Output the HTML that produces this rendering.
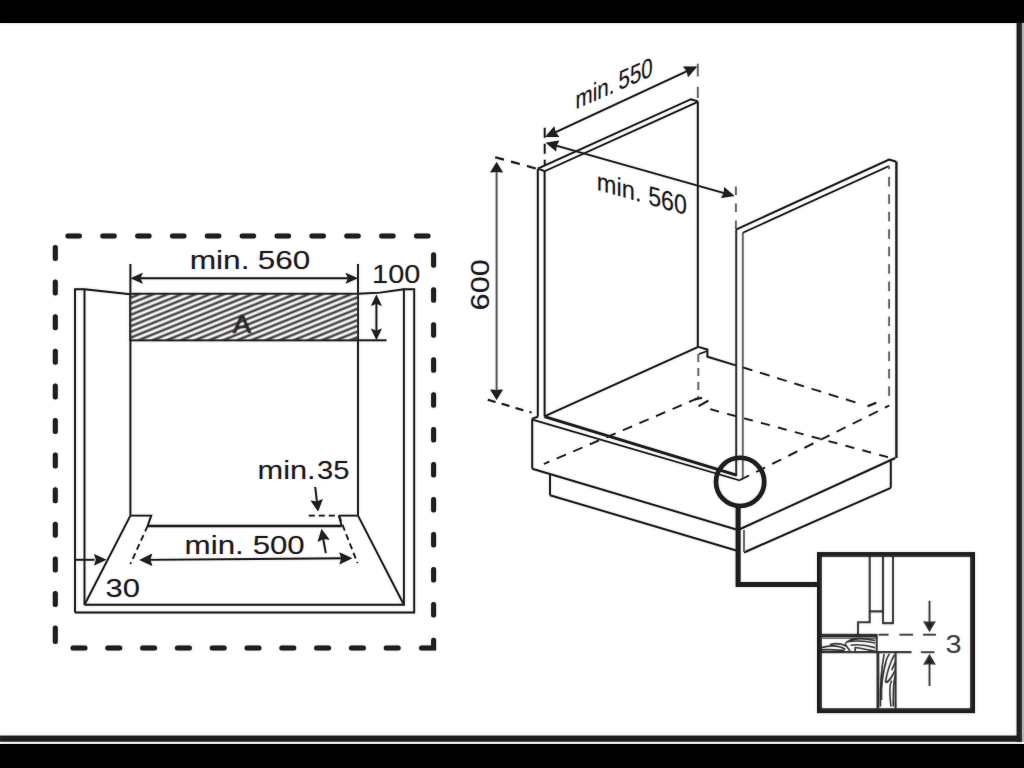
<!DOCTYPE html>
<html><head><meta charset="utf-8"><style>
html,body{margin:0;padding:0;background:#fff;width:1024px;height:768px;overflow:hidden}
svg{display:block}
text{font-family:"Liberation Sans",sans-serif}
</style></head><body>
<svg width="1024" height="768" viewBox="0 0 1024 768">
<defs><filter id="halo" x="0" y="0" width="1024" height="768" filterUnits="userSpaceOnUse"><feGaussianBlur stdDeviation="1"/></filter></defs>
<rect width="1024" height="768" fill="#fff"/>
<g id="art">
<rect x="0" y="0" width="1024" height="23" fill="#000"/>
<rect x="0" y="744" width="1024" height="24" fill="#000"/>
<rect x="0" y="735.6" width="1022.1" height="6.1" fill="#231f20"/>
<rect x="1016.6" y="23" width="5.5" height="718.7" fill="#231f20"/>
<rect x="1022.1" y="23" width="1.9" height="719" fill="#b8b8b8"/>
<line x1="67.90" y1="236" x2="79.40" y2="236" stroke="#231f20" stroke-width="5" stroke-linecap="round"/>
<line x1="102.76" y1="236" x2="114.26" y2="236" stroke="#231f20" stroke-width="5" stroke-linecap="round"/>
<line x1="137.62" y1="236" x2="149.12" y2="236" stroke="#231f20" stroke-width="5" stroke-linecap="round"/>
<line x1="172.48" y1="236" x2="183.98" y2="236" stroke="#231f20" stroke-width="5" stroke-linecap="round"/>
<line x1="207.34" y1="236" x2="218.84" y2="236" stroke="#231f20" stroke-width="5" stroke-linecap="round"/>
<line x1="242.20" y1="236" x2="253.70" y2="236" stroke="#231f20" stroke-width="5" stroke-linecap="round"/>
<line x1="277.06" y1="236" x2="288.56" y2="236" stroke="#231f20" stroke-width="5" stroke-linecap="round"/>
<line x1="311.92" y1="236" x2="323.42" y2="236" stroke="#231f20" stroke-width="5" stroke-linecap="round"/>
<line x1="346.78" y1="236" x2="358.28" y2="236" stroke="#231f20" stroke-width="5" stroke-linecap="round"/>
<line x1="381.64" y1="236" x2="393.14" y2="236" stroke="#231f20" stroke-width="5" stroke-linecap="round"/>
<line x1="416.50" y1="236" x2="428.00" y2="236" stroke="#231f20" stroke-width="5" stroke-linecap="round"/>
<line x1="55.3" y1="247.50" x2="55.3" y2="258.50" stroke="#231f20" stroke-width="5" stroke-linecap="round"/>
<line x1="55.3" y1="282.10" x2="55.3" y2="293.10" stroke="#231f20" stroke-width="5" stroke-linecap="round"/>
<line x1="55.3" y1="316.70" x2="55.3" y2="327.70" stroke="#231f20" stroke-width="5" stroke-linecap="round"/>
<line x1="55.3" y1="351.30" x2="55.3" y2="362.30" stroke="#231f20" stroke-width="5" stroke-linecap="round"/>
<line x1="55.3" y1="385.90" x2="55.3" y2="396.90" stroke="#231f20" stroke-width="5" stroke-linecap="round"/>
<line x1="55.3" y1="420.50" x2="55.3" y2="431.50" stroke="#231f20" stroke-width="5" stroke-linecap="round"/>
<line x1="55.3" y1="455.10" x2="55.3" y2="466.10" stroke="#231f20" stroke-width="5" stroke-linecap="round"/>
<line x1="55.3" y1="489.70" x2="55.3" y2="500.70" stroke="#231f20" stroke-width="5" stroke-linecap="round"/>
<line x1="55.3" y1="524.30" x2="55.3" y2="535.30" stroke="#231f20" stroke-width="5" stroke-linecap="round"/>
<line x1="55.3" y1="558.90" x2="55.3" y2="569.90" stroke="#231f20" stroke-width="5" stroke-linecap="round"/>
<line x1="55.3" y1="593.50" x2="55.3" y2="604.50" stroke="#231f20" stroke-width="5" stroke-linecap="round"/>
<line x1="55.3" y1="628.10" x2="55.3" y2="641.60" stroke="#231f20" stroke-width="5" stroke-linecap="round"/>
<line x1="73.00" y1="648" x2="85.00" y2="648" stroke="#231f20" stroke-width="5" stroke-linecap="round"/>
<line x1="107.80" y1="648" x2="119.80" y2="648" stroke="#231f20" stroke-width="5" stroke-linecap="round"/>
<line x1="142.60" y1="648" x2="154.60" y2="648" stroke="#231f20" stroke-width="5" stroke-linecap="round"/>
<line x1="177.40" y1="648" x2="189.40" y2="648" stroke="#231f20" stroke-width="5" stroke-linecap="round"/>
<line x1="212.20" y1="648" x2="224.20" y2="648" stroke="#231f20" stroke-width="5" stroke-linecap="round"/>
<line x1="247.00" y1="648" x2="259.00" y2="648" stroke="#231f20" stroke-width="5" stroke-linecap="round"/>
<line x1="281.80" y1="648" x2="293.80" y2="648" stroke="#231f20" stroke-width="5" stroke-linecap="round"/>
<line x1="316.60" y1="648" x2="328.60" y2="648" stroke="#231f20" stroke-width="5" stroke-linecap="round"/>
<line x1="351.40" y1="648" x2="363.40" y2="648" stroke="#231f20" stroke-width="5" stroke-linecap="round"/>
<line x1="386.20" y1="648" x2="398.20" y2="648" stroke="#231f20" stroke-width="5" stroke-linecap="round"/>
<line x1="433.6" y1="254.80" x2="433.6" y2="265.30" stroke="#231f20" stroke-width="5" stroke-linecap="round"/>
<line x1="433.6" y1="289.76" x2="433.6" y2="300.26" stroke="#231f20" stroke-width="5" stroke-linecap="round"/>
<line x1="433.6" y1="324.72" x2="433.6" y2="335.22" stroke="#231f20" stroke-width="5" stroke-linecap="round"/>
<line x1="433.6" y1="359.68" x2="433.6" y2="370.18" stroke="#231f20" stroke-width="5" stroke-linecap="round"/>
<line x1="433.6" y1="394.64" x2="433.6" y2="405.14" stroke="#231f20" stroke-width="5" stroke-linecap="round"/>
<line x1="433.6" y1="429.60" x2="433.6" y2="440.10" stroke="#231f20" stroke-width="5" stroke-linecap="round"/>
<line x1="433.6" y1="464.56" x2="433.6" y2="475.06" stroke="#231f20" stroke-width="5" stroke-linecap="round"/>
<line x1="433.6" y1="499.52" x2="433.6" y2="510.02" stroke="#231f20" stroke-width="5" stroke-linecap="round"/>
<line x1="433.6" y1="534.48" x2="433.6" y2="544.98" stroke="#231f20" stroke-width="5" stroke-linecap="round"/>
<line x1="433.6" y1="569.44" x2="433.6" y2="579.94" stroke="#231f20" stroke-width="5" stroke-linecap="round"/>
<line x1="433.6" y1="604.40" x2="433.6" y2="614.90" stroke="#231f20" stroke-width="5" stroke-linecap="round"/>
<path d="M421.5,648 H433.6 V640.2" stroke="#231f20" stroke-width="5" fill="none" stroke-linejoin="miter" stroke-linecap="round"/>
<path d="M75,612.5 V289.2 H84.5 L130.4,294.2" stroke="#231f20" stroke-width="1.9" fill="none" />
<line x1="84.5" y1="289.2" x2="84.5" y2="604.8" stroke="#231f20" stroke-width="1.9" />
<path d="M84.5,604.8 H403.9 V289.2 H414.2 V612.5 H75" stroke="#231f20" stroke-width="1.9" fill="none" />
<path d="M358,293.8 L380,292.6 L403.9,289.2" stroke="#231f20" stroke-width="1.9" fill="none" />
<line x1="130.4" y1="264" x2="130.4" y2="515.6" stroke="#231f20" stroke-width="1.9" />
<line x1="358" y1="264" x2="358" y2="515.6" stroke="#231f20" stroke-width="1.9" />
<defs><pattern id="hatch" patternUnits="userSpaceOnUse" width="12" height="5.7" patternTransform="skewY(-22)"><rect width="12" height="5.7" fill="#fff"/><line x1="-1" y1="2.85" x2="13" y2="2.85" stroke="#353132" stroke-width="2.7"/></pattern></defs>
<rect x="130.4" y="293.8" width="227.6" height="46.5" fill="url(#hatch)" stroke="#231f20" stroke-width="2"/>
<text x="232.67" y="333.30" font-size="25" fill="#231f20" textLength="18.43" lengthAdjust="spacingAndGlyphs" stroke="#231f20" stroke-width="0.7">A</text>
<line x1="136.65" y1="278.30" x2="351.75" y2="278.30" stroke="#231f20" stroke-width="1.9" />
<polygon points="130.40,278.30 142.90,272.79 140.40,278.30 142.90,283.81" fill="#231f20"/>
<polygon points="358.00,278.30 345.50,283.81 348.00,278.30 345.50,272.79" fill="#231f20"/>
<text x="189.68" y="268.70" font-size="26.5" fill="#231f20" textLength="59.89" lengthAdjust="spacingAndGlyphs" >min.</text>
<text x="257.74" y="268.70" font-size="25" fill="#231f20" textLength="52.38" lengthAdjust="spacingAndGlyphs" >560</text>
<text x="372.08" y="283.40" font-size="25" fill="#231f20" textLength="48.15" lengthAdjust="spacingAndGlyphs" >100</text>
<line x1="358" y1="340.3" x2="386.5" y2="340.3" stroke="#231f20" stroke-width="1.9" />
<line x1="376.40" y1="300.25" x2="376.40" y2="334.25" stroke="#231f20" stroke-width="1.9" />
<polygon points="376.40,294.50 381.91,306.00 376.40,303.70 370.89,306.00" fill="#231f20"/>
<polygon points="376.40,340.00 370.89,328.50 376.40,330.80 381.91,328.50" fill="#231f20"/>
<path d="M130.4,515.6 H151.25 L147.6,526 M338.9,515.6 H358" stroke="#231f20" stroke-width="1.9" fill="none" />
<line x1="147.6" y1="526" x2="341.7" y2="526" stroke="#231f20" stroke-width="2.6" />
<line x1="341.7" y1="526" x2="338.9" y2="515.6" stroke="#231f20" stroke-width="1.9" />
<line x1="130.4" y1="515.6" x2="84.5" y2="604.8" stroke="#231f20" stroke-width="1.9" />
<line x1="358" y1="515.6" x2="403.9" y2="604.8" stroke="#231f20" stroke-width="1.9" />
<line x1="147.6" y1="526" x2="130.4" y2="564" stroke="#231f20" stroke-width="1.8" stroke-dasharray="6 4" stroke-dashoffset="0"/>
<line x1="338.9" y1="515.6" x2="357.5" y2="563.2" stroke="#231f20" stroke-width="1.8" stroke-dasharray="6 4" stroke-dashoffset="0"/>
<line x1="308.8" y1="515.6" x2="338.9" y2="515.6" stroke="#231f20" stroke-width="1.8" stroke-dasharray="6 4" stroke-dashoffset="0"/>
<line x1="145.80" y1="559.85" x2="345.80" y2="558.25" stroke="#231f20" stroke-width="1.9" />
<polygon points="139.30,559.90 152.25,553.62 150.35,559.81 152.35,565.97" fill="#231f20"/>
<polygon points="352.30,558.20 339.35,564.48 341.25,558.29 339.25,552.13" fill="#231f20"/>
<text x="184.60" y="553.60" font-size="26.5" fill="#231f20" textLength="59.23" lengthAdjust="spacingAndGlyphs" >min.</text>
<text x="252.65" y="553.60" font-size="25" fill="#231f20" textLength="52.07" lengthAdjust="spacingAndGlyphs" >500</text>
<line x1="75.8" y1="559.8" x2="94.5" y2="559.8" stroke="#231f20" stroke-width="1.9" />
<polygon points="106.50,559.80 94.00,565.50 95.88,559.80 94.00,554.10" fill="#231f20"/>
<text x="105.61" y="596.50" font-size="25" fill="#231f20" textLength="34.44" lengthAdjust="spacingAndGlyphs" >30</text>
<text x="257.54" y="478.80" font-size="26.5" fill="#231f20" textLength="58.14" lengthAdjust="spacingAndGlyphs" >min.</text>
<text x="317.08" y="478.80" font-size="25" fill="#231f20" textLength="32.39" lengthAdjust="spacingAndGlyphs" >35</text>
<line x1="315.2" y1="487" x2="317" y2="502" stroke="#231f20" stroke-width="1.9" />
<polygon points="318.10,511.60 310.56,500.41 316.91,501.47 322.83,498.96" fill="#231f20"/>
<line x1="325.8" y1="553" x2="323" y2="538" stroke="#231f20" stroke-width="1.9" />
<polygon points="321.50,529.00 329.69,539.72 323.30,539.04 317.54,541.90" fill="#231f20"/>
<line x1="537.8" y1="169" x2="537.8" y2="416.5" stroke="#231f20" stroke-width="1.95" />
<line x1="544.6" y1="171" x2="544.6" y2="416.5" stroke="#231f20" stroke-width="1.95" />
<path d="M537.8,168.6 L691,99.2 L697.8,101.4" stroke="#231f20" stroke-width="1.95" fill="none" />
<line x1="544.6" y1="171.2" x2="697.8" y2="101.9" stroke="#231f20" stroke-width="1.8" />
<line x1="537.8" y1="168.6" x2="544.6" y2="171.2" stroke="#231f20" stroke-width="1.8" />
<line x1="697.8" y1="101.4" x2="697.8" y2="347" stroke="#231f20" stroke-width="1.95" />
<line x1="697.8" y1="63.7" x2="697.8" y2="76.4" stroke="#6f6b6c" stroke-width="1.9" stroke-dasharray="13 100" stroke-dashoffset="0"/>
<line x1="697.8" y1="86.9" x2="697.8" y2="98" stroke="#6f6b6c" stroke-width="1.9" stroke-dasharray="12 100" stroke-dashoffset="0"/>
<line x1="544.7" y1="127.8" x2="544.7" y2="166" stroke="#231f20" stroke-width="1.9" stroke-dasharray="10 6" stroke-dashoffset="0"/>
<line x1="550.90" y1="134.27" x2="691.40" y2="69.13" stroke="#231f20" stroke-width="1.9" />
<polygon points="545.00,137.00 554.32,126.19 555.61,132.08 559.27,136.88" fill="#231f20"/>
<polygon points="697.30,66.40 687.98,77.21 686.69,71.32 683.03,66.52" fill="#231f20"/>
<line x1="551.72" y1="144.40" x2="728.58" y2="194.30" stroke="#231f20" stroke-width="1.9" />
<polygon points="545.70,142.70 559.28,140.61 556.53,145.76 556.18,151.58" fill="#231f20"/>
<polygon points="734.60,196.00 721.02,198.09 723.77,192.94 724.12,187.12" fill="#231f20"/>
<line x1="735.9" y1="186.4" x2="735.9" y2="229.6" stroke="#6f6b6c" stroke-width="1.9" stroke-dasharray="8.5 8.5" stroke-dashoffset="0"/>
<line x1="496.6" y1="172" x2="496.6" y2="390" stroke="#5f5b5c" stroke-width="1.9" />
<polygon points="496.60,161.90 503.06,172.40 496.60,171.88 490.14,172.40" fill="#231f20"/>
<polygon points="496.60,400.00 490.14,389.50 496.60,390.02 503.06,389.50" fill="#231f20"/>
<line x1="495.2" y1="157.2" x2="538.6" y2="169.3" stroke="#231f20" stroke-width="2.1" stroke-dasharray="9 7.5" stroke-dashoffset="0"/>
<line x1="487.8" y1="399.7" x2="531.6" y2="412.6" stroke="#231f20" stroke-width="2.1" stroke-dasharray="8 6.5" stroke-dashoffset="0"/>
<line x1="736.2" y1="229.6" x2="736.2" y2="476" stroke="#3a3637" stroke-width="1.95" />
<line x1="742.8" y1="232.8" x2="742.8" y2="479" stroke="#6f6b6c" stroke-width="1.9" />
<path d="M735.9,229.6 L889.1,159.6 L896.4,161.8" stroke="#231f20" stroke-width="1.95" fill="none" />
<line x1="742.8" y1="232.8" x2="889.1" y2="166" stroke="#231f20" stroke-width="1.8" />
<line x1="896.4" y1="161.8" x2="896.4" y2="458.1" stroke="#231f20" stroke-width="2.3" />
<line x1="889.1" y1="166" x2="889.1" y2="169" stroke="#6f6b6c" stroke-width="1.9" />
<line x1="889.1" y1="176.90" x2="889.1" y2="186.40" stroke="#6f6b6c" stroke-width="1.9" />
<line x1="889.1" y1="194.36" x2="889.1" y2="203.86" stroke="#6f6b6c" stroke-width="1.9" />
<line x1="889.1" y1="211.82" x2="889.1" y2="221.32" stroke="#6f6b6c" stroke-width="1.9" />
<line x1="889.1" y1="229.28" x2="889.1" y2="238.78" stroke="#6f6b6c" stroke-width="1.9" />
<line x1="889.1" y1="246.74" x2="889.1" y2="256.24" stroke="#6f6b6c" stroke-width="1.9" />
<line x1="889.1" y1="264.20" x2="889.1" y2="273.70" stroke="#6f6b6c" stroke-width="1.9" />
<line x1="889.1" y1="281.66" x2="889.1" y2="291.16" stroke="#6f6b6c" stroke-width="1.9" />
<line x1="889.1" y1="299.12" x2="889.1" y2="308.62" stroke="#6f6b6c" stroke-width="1.9" />
<line x1="889.1" y1="316.58" x2="889.1" y2="326.08" stroke="#6f6b6c" stroke-width="1.9" />
<line x1="889.1" y1="334.04" x2="889.1" y2="343.54" stroke="#6f6b6c" stroke-width="1.9" />
<line x1="889.1" y1="351.50" x2="889.1" y2="361.00" stroke="#6f6b6c" stroke-width="1.9" />
<line x1="889.1" y1="368.96" x2="889.1" y2="378.46" stroke="#6f6b6c" stroke-width="1.9" />
<line x1="889.1" y1="386.42" x2="889.1" y2="395.92" stroke="#6f6b6c" stroke-width="1.9" />
<line x1="544.9" y1="416.1" x2="698.3" y2="346.9" stroke="#231f20" stroke-width="1.95" />
<path d="M698.3,346.9 L707.4,349.5 V356.7 L735.9,365.4" stroke="#231f20" stroke-width="1.95" fill="none" />
<line x1="699" y1="354" x2="707.4" y2="351" stroke="#231f20" stroke-width="1.5" />
<line x1="698.3" y1="354" x2="698.3" y2="397.7" stroke="#6f6b6c" stroke-width="1.9" stroke-dasharray="8 6" stroke-dashoffset="0"/>
<line x1="698.3" y1="398" x2="543.9" y2="464" stroke="#231f20" stroke-width="1.8" stroke-dasharray="10 8" stroke-dashoffset="0"/>
<line x1="710.3" y1="409.2" x2="893" y2="458.5" stroke="#231f20" stroke-width="1.8" stroke-dasharray="9 8.5" stroke-dashoffset="0"/>
<line x1="698.6" y1="406.1" x2="708.4" y2="400.6" stroke="#231f20" stroke-width="2.1" />
<line x1="694.5" y1="399.5" x2="702" y2="397.8" stroke="#231f20" stroke-width="2.1" />
<line x1="742.8" y1="367.3" x2="862" y2="404.5" stroke="#231f20" stroke-width="1.8" stroke-dasharray="10 8" stroke-dashoffset="0"/>
<line x1="867.6" y1="406.3" x2="876.2" y2="402.8" stroke="#231f20" stroke-width="2.1" />
<line x1="740" y1="480" x2="889.3" y2="405.5" stroke="#231f20" stroke-width="1.8" stroke-dasharray="10 8" stroke-dashoffset="0"/>
<line x1="544.5" y1="416.6" x2="736.5" y2="475.2" stroke="#231f20" stroke-width="2.9" />
<line x1="532.4" y1="419.6" x2="740" y2="480.5" stroke="#231f20" stroke-width="1.7" />
<line x1="532.2" y1="418.6" x2="532.2" y2="468.7" stroke="#231f20" stroke-width="1.95" />
<line x1="532.2" y1="418.6" x2="538" y2="416.8" stroke="#231f20" stroke-width="1.95" />
<line x1="532.2" y1="468.7" x2="738" y2="530" stroke="#231f20" stroke-width="1.95" />
<line x1="550" y1="474.4" x2="550" y2="495.2" stroke="#231f20" stroke-width="1.95" />
<line x1="550" y1="495.2" x2="738" y2="551" stroke="#231f20" stroke-width="1.95" />
<line x1="738" y1="530" x2="895.3" y2="458" stroke="#231f20" stroke-width="1.95" />
<line x1="744" y1="552.5" x2="890.8" y2="487.8" stroke="#231f20" stroke-width="1.95" />
<line x1="890.8" y1="460.5" x2="890.8" y2="487.8" stroke="#231f20" stroke-width="1.95" />
<line x1="744" y1="530" x2="744" y2="552" stroke="#6f6b6c" stroke-width="1.9" />
<circle cx="740.1" cy="481.9" r="24.1" fill="none" stroke="#231f20" stroke-width="4.6"/>
<path d="M738.1,506 V584.5 H819.5" stroke="#231f20" stroke-width="5" fill="none" stroke-linejoin="miter"/>
<rect x="819.5" y="554.6" width="153" height="156" fill="#fff" stroke="#231f20" stroke-width="5"/>
<path d="M869.7,557 V611.4 H883 V557" stroke="#231f20" stroke-width="2.1" fill="none" />
<path d="M883,557 V623.1 H893 V557" stroke="#231f20" stroke-width="2.1" fill="none" />
<path d="M869.7,611.4 V622.3 H858 V634" stroke="#231f20" stroke-width="2.1" fill="none" />
<line x1="821.5" y1="635.3" x2="876.7" y2="635.3" stroke="#231f20" stroke-width="3.3" />
<line x1="821.5" y1="638.2" x2="876.7" y2="638.2" stroke="#6a6667" stroke-width="1.7" />
<line x1="876.7" y1="634" x2="876.7" y2="652.2" stroke="#231f20" stroke-width="2.1" />
<line x1="821.5" y1="652.2" x2="911.5" y2="652.2" stroke="#231f20" stroke-width="2.3" />
<line x1="878.6" y1="634.7" x2="888.6" y2="634.7" stroke="#231f20" stroke-width="1.9" />
<line x1="899.4" y1="634.7" x2="913" y2="634.7" stroke="#231f20" stroke-width="1.9" />
<line x1="923" y1="634.7" x2="935.9" y2="634.7" stroke="#231f20" stroke-width="1.9" />
<line x1="920.9" y1="652.2" x2="934.5" y2="652.2" stroke="#231f20" stroke-width="1.9" />
<line x1="877.9" y1="652.2" x2="877.9" y2="708" stroke="#231f20" stroke-width="2.9" />
<line x1="895.6" y1="652.2" x2="895.6" y2="708" stroke="#231f20" stroke-width="2.1" />
<path d="M821.2,647.6 C832,644.5 840,646 845.2,649.3 M821.2,649.9 C830,649 838,650 844.6,650.5 M845.2,643.5 C850,638 862,637.5 875,640.5 M847.5,641.7 C856,640.5 866,641 875,643 M850.5,645.2 C860,644 868,645.5 875,647.6 M855,647.5 C860,648 868,650 875,651 M855.2,647 V651 M845,644 L850,651 M830,644.5 C836,643 842,644 846,646" stroke="#231f20" stroke-width="1.65" fill="none" />
<path d="M880.5,706.6 C880,680 882,665 884.1,654 M883.3,674.2 C885,662 887,657 889.4,654 M885.4,682.3 C887,672 890,663 894.2,654.8 M885.4,682.3 C889,683 892,676 895.5,670 M891,706.6 C889,690 890,683 891.8,680.7 M893.4,706.6 C893,690 894,678 895.9,674 M891.8,670.2 C893,667 894.2,664.5 895.9,660.5 M881.5,700 C881,685 883,672 886,662" stroke="#231f20" stroke-width="1.65" fill="none" />
<line x1="929.50" y1="600.70" x2="929.50" y2="626.80" stroke="#231f20" stroke-width="1.9" />
<polygon points="929.50,632.30 923.04,621.30 929.50,621.85 935.96,621.30" fill="#231f20"/>
<line x1="929.50" y1="659.30" x2="929.50" y2="686.00" stroke="#231f20" stroke-width="1.9" />
<polygon points="929.50,653.80 935.96,664.80 929.50,664.25 923.04,664.80" fill="#231f20"/>
<text x="945.59" y="653.00" font-size="25" fill="#231f20" textLength="16.06" lengthAdjust="spacingAndGlyphs" >3</text>
<text x="0" y="0" font-size="25" fill="#231f20" textLength="51.22" lengthAdjust="spacingAndGlyphs" transform="translate(489.2,310.42) rotate(-90)">600</text>
<text x="0" y="0" font-size="26" fill="#231f20" textLength="38.94" lengthAdjust="spacingAndGlyphs" transform="matrix(1,-0.44,0,1,575.52,109.51)">min.</text>
<text x="0" y="0" font-size="27" fill="#231f20" textLength="34.29" lengthAdjust="spacingAndGlyphs" transform="matrix(1,-0.44,0,1,618.51,90.59)">550</text>
<text x="0" y="0" font-size="26" fill="#231f20" textLength="44.72" lengthAdjust="spacingAndGlyphs" transform="matrix(1,0.282,0,1,596.82,189.75)">min.</text>
<text x="0" y="0" font-size="27" fill="#231f20" textLength="38.71" lengthAdjust="spacingAndGlyphs" transform="matrix(1,0.282,0,1,648.20,204.24)">560</text>
</g>
<use href="#art" filter="url(#halo)" opacity="0.3"/>
</svg></body></html>
